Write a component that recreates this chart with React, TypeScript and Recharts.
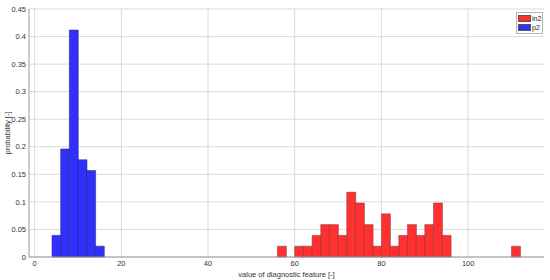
import { ComposedChart, Bar, XAxis, YAxis, CartesianGrid, Legend } from 'recharts';

// bin centres (bin width 2)
const binCenters = [
  5, 7, 9, 11, 13, 15, 17, 19, 21, 23, 25, 27, 29, 31, 33, 35, 37, 39,
  41, 43, 45, 47, 49, 51, 53, 55, 57, 59, 61, 63, 65, 67, 69, 71, 73, 75,
  77, 79, 81, 83, 85, 87, 89, 91, 93, 95, 97, 99, 101, 103, 105, 107, 109, 111,
];

const p2Bins = [5, 7, 9, 11, 13, 15];
const p2Prob = [0.0392, 0.1961, 0.4118, 0.1765, 0.1569, 0.0196];

const in2Bins = [57, 61, 63, 65, 67, 69, 71, 73, 75, 77, 79, 81, 83, 85, 87, 89, 91, 93, 95, 111];
const in2Prob = [
  0.0196, 0.0196, 0.0196, 0.0392, 0.0588, 0.0588, 0.0392, 0.1176, 0.098, 0.0588,
  0.0196, 0.0784, 0.0196, 0.0392, 0.0588, 0.0392, 0.0588, 0.098, 0.0392, 0.0196,
];

const xTicks = [0, 20, 40, 60, 80, 100];
const yTicks = [0, 0.05, 0.1, 0.15, 0.2, 0.25, 0.3, 0.35, 0.4, 0.45];

const table = binCenters.map((x) => {
  const pi = p2Bins.indexOf(x);
  const ii = in2Bins.indexOf(x);
  return { x, p2: pi >= 0 ? p2Prob[pi] : 0, in2: ii >= 0 ? in2Prob[ii] : 0 };
});

const FONT = '"Liberation Sans", Arial, sans-serif';
const tickStyle = { fill: '#333', fontSize: 7.5, fontFamily: FONT };
const FRAME = '#9a9a9a';

function LegendBox({ payload }: any) {
  if (!payload) return null;
  return (
    <div style={{ background: '#fff', border: '1px solid #b4b4b4', padding: 1, fontFamily: FONT, fontSize: 7, color: '#222', lineHeight: '9px' }}>
      {payload.map((p: any) => (
        <div key={p.value} style={{ display: 'flex', alignItems: 'center', height: 9 }}>
          <span style={{ display: 'inline-block', width: 11, height: 5, background: p.color, border: '0.5px solid #555', marginRight: 1 }} />
          {p.value}
        </div>
      ))}
    </div>
  );
}

export default function App() {
  return (
    <div style={{ position: 'absolute', left: 0, top: 0 }}>
      <ComposedChart
        width={550}
        height={280}
        data={table}
        margin={{ top: 9, right: 6, bottom: 0, left: 0 }}
        barCategoryGap={0}
        barGap={0}
      >
        <CartesianGrid stroke="#d2d2d2" strokeWidth={0.8} horizontalValues={yTicks} verticalValues={xTicks} />
        <XAxis
          dataKey="x"
          type="number"
          domain={[-1.3, 117.5]}
          ticks={xTicks}
          allowDataOverflow
          height={23}
          tickSize={0}
          tickMargin={4}
          tick={tickStyle}
          stroke={FRAME}
          label={{ value: 'value of diagnostic feature [-]', position: 'insideBottom', offset: 3, style: { fill: '#333', fontSize: 7.5, fontFamily: FONT } }}
        />
        <XAxis xAxisId="top" orientation="top" type="number" domain={[-1.3, 117.5]} height={0} tick={false} tickLine={false} stroke={FRAME} />
        <YAxis
          type="number"
          domain={[0, 0.45]}
          ticks={yTicks}
          width={29}
          tickSize={0}
          tickMargin={3}
          tick={tickStyle}
          stroke={FRAME}
          label={{ value: 'probability [-]', angle: -90, position: 'center', dx: -7, style: { fill: '#333', fontSize: 7.5, fontFamily: FONT } }}
        />
        <YAxis yAxisId="right" orientation="right" domain={[0, 0.45]} width={0} tick={false} tickLine={false} stroke={FRAME} />
        <Legend
          content={<LegendBox />}
          layout="vertical"
          align="center"
          verticalAlign="middle"
          wrapperStyle={{ position: 'absolute', top: 12, left: 516, width: 'auto' }}
        />
        <Bar dataKey="in2" name="in2" stackId="h" fill="#ff3030" stroke="#7a3a3a" strokeWidth={0.5} isAnimationActive={false} />
        <Bar dataKey="p2" name="p2" stackId="h" fill="#3030fa" stroke="#2a2a70" strokeWidth={0.5} isAnimationActive={false} />
      </ComposedChart>
    </div>
  );
}
